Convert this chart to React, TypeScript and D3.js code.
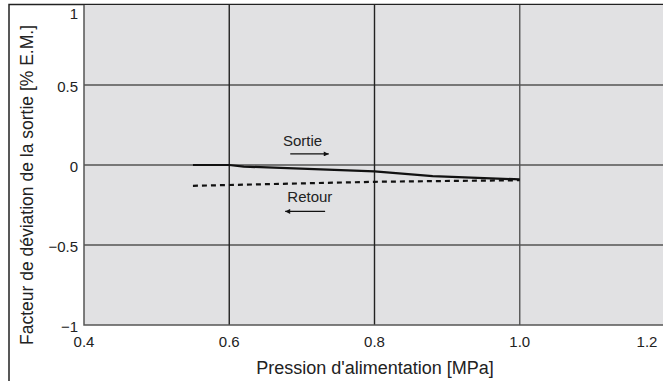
import React, { useEffect, useRef } from "react";
import * as d3 from "d3";

// values
const xTicks = [0.4, 0.6, 0.8, 1.0, 1.2];
const yTicks = [-1, -0.5, 0, 0.5, 1];

const sortiePressure = [0.55, 0.6, 0.62, 0.8, 0.88, 1.0];
const sortieDeviation = [0, 0, -0.01, -0.04, -0.07, -0.09];

const retourPressure = [0.55, 0.8, 1.0];
const retourDeviation = [-0.13, -0.105, -0.095];

// annotations: [label, label x, label y, arrow tail x, arrow head x, arrow y]
const annotations = [
  { label: "Sortie", x: 0.701, y: 0.12, from: 0.684, to: 0.737, ay: 0.069 },
  { label: "Retour", x: 0.711, y: -0.23, from: 0.732, to: 0.677, ay: -0.29 },
];

const xTitle = "Pression d'alimentation [MPa]";
const yTitle = "Facteur de déviation de la sortie [% E.M.]";

const W = 663;
const H = 385;
const font = "'Liberation Sans', Arial, sans-serif";

const DeviationChart = () => {
  const svgRef = useRef<SVGSVGElement>(null);

  useEffect(() => {
    document.body.style.margin = "0";

    const margin = { top: 5, right: -2, bottom: 60, left: 84 };

    const svg = d3.select(svgRef.current);
    svg.selectAll("*").remove();
    svg.attr("width", W).attr("height", H);

    const x = d3.scaleLinear()
      .domain([0.4, 1.2])
      .range([margin.left, W - margin.right]);

    const y = d3.scaleLinear()
      .domain([-1, 1])
      .range([H - margin.bottom, margin.top]);

    // outer frame (left + top)
    svg.append("rect").attr("width", W).attr("height", H).attr("fill", "white");
    svg.append("path")
      .attr("d", `M9,381 V4.5 H${W}`)
      .attr("fill", "none")
      .attr("stroke", "#222")
      .attr("stroke-width", 1.5);

    // plot background
    svg.append("rect")
      .attr("x", x(0.4))
      .attr("y", y(1))
      .attr("width", x(1.2) - x(0.4))
      .attr("height", y(-1) - y(1))
      .attr("fill", "#e1e1e3");

    // horizontal grid
    svg.append("g")
      .selectAll("line")
      .data(yTicks.filter(d => d > -1 && d < 1))
      .join("line")
      .attr("x1", x(0.4))
      .attr("x2", x(1.2))
      .attr("y1", d => y(d))
      .attr("y2", d => y(d))
      .attr("stroke", "#777")
      .attr("stroke-width", 2);

    // vertical grid
    svg.append("g")
      .selectAll("line")
      .data(xTicks.filter(d => d > 0.4 && d < 1.2))
      .join("line")
      .attr("x1", d => x(d))
      .attr("x2", d => x(d))
      .attr("y1", y(1))
      .attr("y2", y(-1))
      .attr("stroke", d => (d === 1.0 ? "#555" : "#222"))
      .attr("stroke-width", 1.4);

    // plot border: left + bottom
    svg.append("path")
      .attr("d", `M${x(0.4)},${y(1)} V${y(-1)} H${x(1.2)}`)
      .attr("fill", "none")
      .attr("stroke", "#555")
      .attr("stroke-width", 1.5);

    // tick labels
    svg.append("g")
      .selectAll("text")
      .data(xTicks)
      .join("text")
      .attr("x", d => Math.min(x(d), W - 16))
      .attr("y", y(-1) + 22)
      .attr("text-anchor", "middle")
      .style("font-family", font)
      .style("font-size", "15px")
      .attr("fill", "#222")
      .text(d => d3.format(".1f")(d));

    svg.append("g")
      .selectAll("text")
      .data(yTicks)
      .join("text")
      .attr("x", x(0.4) - 6)
      .attr("y", d => Math.max(y(d) + 2, margin.top + 9))
      .attr("dy", "0.35em")
      .attr("text-anchor", "end")
      .style("font-family", font)
      .style("font-size", "15px")
      .attr("fill", "#222")
      .text(d => (d === 0 ? "0" : d3.format("")(d).replace("-", "\u2212")));

    // axis titles
    svg.append("text")
      .attr("x", 375)
      .attr("y", 374)
      .attr("text-anchor", "middle")
      .style("font-family", font)
      .style("font-size", "18px")
      .attr("fill", "#222")
      .text(xTitle);

    svg.append("text")
      .attr("transform", "rotate(-90)")
      .attr("x", -185)
      .attr("y", 33)
      .attr("text-anchor", "middle")
      .style("font-family", font)
      .style("font-size", "17.5px")
      .attr("fill", "#222")
      .text(yTitle);

    // lines
    const line = d3.line<[number, number]>()
      .x(d => x(d[0]))
      .y(d => y(d[1]));

    svg.append("path")
      .datum(d3.zip(sortiePressure, sortieDeviation) as [number, number][])
      .attr("d", line)
      .attr("fill", "none")
      .attr("stroke", "#111")
      .attr("stroke-width", 2.2);

    svg.append("path")
      .datum(d3.zip(retourPressure, retourDeviation) as [number, number][])
      .attr("d", line)
      .attr("fill", "none")
      .attr("stroke", "#111")
      .attr("stroke-width", 2.2)
      .attr("stroke-dasharray", "5,4");

    // annotations
    const defs = svg.append("defs");
    defs.append("marker")
      .attr("id", "arrowhead")
      .attr("viewBox", "0 0 10 10")
      .attr("refX", 10)
      .attr("refY", 5)
      .attr("markerWidth", 9)
      .attr("markerHeight", 5)
      .attr("markerUnits", "userSpaceOnUse")
      .attr("orient", "auto")
      .append("path")
      .attr("d", "M0,0 L10,5 L0,10 Z")
      .attr("fill", "#111");

    annotations.forEach(a => {
      svg.append("text")
        .attr("x", x(a.x))
        .attr("y", y(a.y))
        .attr("text-anchor", "middle")
        .style("font-family", font)
        .style("font-size", "15px")
        .attr("fill", "#222")
        .text(a.label);

      svg.append("line")
        .attr("x1", x(a.from))
        .attr("x2", x(a.to))
        .attr("y1", y(a.ay))
        .attr("y2", y(a.ay))
        .attr("stroke", "#111")
        .attr("stroke-width", 1.2)
        .attr("marker-end", "url(#arrowhead)");
    });
  }, []);

  return <svg ref={svgRef} style={{ display: "block" }}></svg>;
};

export default function App() {
  return <DeviationChart />;
}
